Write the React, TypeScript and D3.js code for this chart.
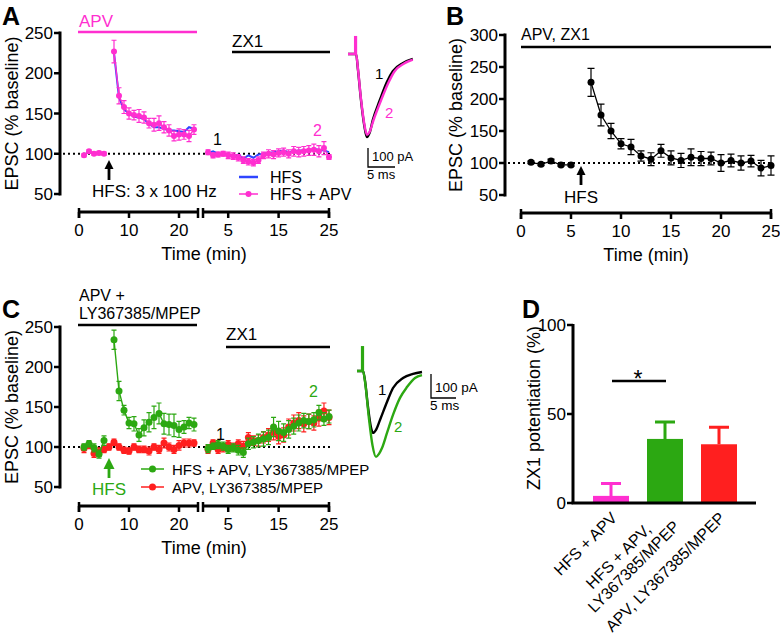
import React from 'react';
import * as d3 from 'd3';

const FONT = 'Arial, "Liberation Sans", Helvetica, sans-serif';
const PINK = '#ff2fd0';
const BLUE = '#2f45ff';
const GREEN = '#2ca812';
const RED = '#ff1f1f';

// time points (min)
const preTime = [1, 2, 3, 4, 5];
const postTimeA = [7, 8, 9, 10, 11, 12, 13, 14, 15, 16, 17, 18, 19, 20, 21, 22, 23];
const postTimeB = [7, 8, 9, 10, 11, 12, 13, 14, 15, 16, 17, 18, 19, 20, 21, 22, 23, 24, 25];
const leftTimeC = [1, 2, 3, 4, 5, 6, 7, 8, 9, 10, 11, 12, 13, 14, 15, 16, 17, 18, 19, 20, 21, 22, 23];
const zxTime = [1, 2, 3, 4, 5, 6, 7, 8, 9, 10, 11, 12, 13, 14, 15, 16, 17, 18, 19, 20, 21, 22, 23, 24, 25];

// panel A
const aPinkPre = [98, 103, 100, 101, 100];
const aPinkPreErr = [2, 2, 2, 2, 2];
const aBluePre = [99, 102, 100, 100, 100];
const aPinkPost = [227, 172, 158, 150, 148, 147, 145, 138, 136, 138, 133, 129, 122, 124, 124, 122, 130];
const aPinkPostErr = [14, 10, 8, 7, 6, 8, 7, 6, 8, 9, 7, 7, 6, 7, 6, 7, 6];
const aBluePost = [225, 170, 155, 150, 146, 145, 143, 137, 133, 133, 131, 129, 129, 128, 127, 133, 131];
const aPinkZx = [102, 98, 99, 100, 98, 97, 95, 92, 90, 89, 92, 98, 100, 99, 101, 102, 100, 103, 102, 103, 104, 105, 103, 107, 96];
const aPinkZxErr = [3, 3, 3, 3, 4, 4, 4, 4, 4, 4, 4, 4, 5, 5, 5, 5, 5, 6, 6, 6, 6, 7, 7, 8, 3];
const aBlueZx = [101, 103, 100, 100, 99, 97, 99, 94, 98, 95, 99, 100, 101, 102, 103, 104, 102, 103, 104, 104, 104, 106, 105, 104, 102];

// panel B
const bPre = [101, 98, 103, 97, 97];
const bPreErr = [2, 2, 3, 2, 2];
const bPost = [226, 175, 150, 130, 125, 111, 106, 119, 108, 104, 109, 107, 107, 100, 104, 100, 103, 92, 96];
const bPostErr = [22, 17, 12, 8, 12, 8, 10, 10, 11, 11, 13, 11, 10, 13, 10, 11, 9, 12, 15];

// panel C
const cGreenPre = [100, 104, 99, 91, 108];
const cGreenPreErr = [4, 4, 5, 5, 6];
const cGreenPost = [234, 170, 146, 130, 129, 115, 124, 131, 137, 142, 129, 128, 127, 122, 125, 130, 128];
const cGreenPostErr = [12, 12, 6, 7, 9, 8, 10, 12, 14, 13, 13, 13, 14, 10, 8, 7, 8];
const cRedLeft = [98, 102, 92, 94, 97, 100, 106, 100, 96, 95, 100, 97, 97, 95, 100, 97, 105, 100, 97, 102, 105, 105, 105];
const cRedLeftErr = [5, 4, 5, 5, 4, 4, 4, 4, 4, 4, 4, 4, 4, 5, 4, 5, 6, 5, 5, 6, 5, 5, 4];
const cGreenZx = [98, 101, 103, 101, 97, 99, 96, 93, 104, 106, 108, 110, 112, 125, 120, 118, 122, 126, 130, 133, 132, 134, 143, 135, 138];
const cGreenZxErr = [5, 4, 5, 5, 5, 5, 6, 6, 7, 7, 8, 9, 9, 12, 12, 11, 11, 10, 10, 9, 9, 9, 9, 8, 8];
const cRedZx = [97, 105, 97, 99, 103, 100, 104, 101, 112, 108, 108, 112, 115, 118, 113, 115, 125, 130, 133, 129, 132, 130, 136, 145, 137];
const cRedZxErr = [5, 4, 5, 5, 5, 5, 5, 6, 6, 6, 7, 7, 8, 9, 9, 9, 10, 10, 10, 10, 9, 9, 10, 10, 9];

// panel D
const dLabels = ['HFS + APV', 'HFS + APV,|LY367385/MPEP', 'APV, LY367385/MPEP'];
const dValues = [4, 36, 33];
const dErr = [7, 9.5, 9.5];
const dColors = [PINK, GREEN, RED];

// EPSC traces: [ms, pA]
const traceA1: [number, number][] = [[0, 0], [1.3, 0], [1.5, 0], [1.85, -84], [2.4, -242], [3.0, -374], [3.5, -437], [4.0, -415], [4.6, -347], [5.9, -242], [7.2, -147], [8.3, -90], [10.2, -47], [12, -26]];
const traceA2: [number, number][] = [[0, 0], [1.3, 0], [1.5, 0], [1.85, -80], [2.4, -235], [3.0, -365], [3.5, -425], [4.0, -410], [4.7, -350], [6.1, -245], [7.5, -150], [8.6, -92], [10.4, -50], [12, -30]];
const traceC1: [number, number][] = [[0, 0], [1.0, 0], [1.2, 0], [1.6, -40], [2.2, -150], [2.8, -235], [3.2, -258], [3.8, -245], [4.6, -204], [6.0, -129], [7.2, -71], [9.2, -29], [11.2, -12], [13, -4]];
const traceC2: [number, number][] = [[0, 0], [1.0, 0], [1.2, 0], [1.7, -60], [2.4, -200], [3.1, -310], [3.8, -358], [4.4, -345], [5.0, -321], [6.0, -258], [7.2, -183], [8.6, -112], [10, -67], [11.6, -29], [13, -17]];
const stimA = 95;
const stimC = 104;

const yTicksA = [50, 100, 150, 200, 250];
const yTicksB = [50, 100, 150, 200, 250, 300];
const xTicksLeft = [0, 10, 20];
const xTicksRight = [5, 15, 25];
const xTicksB = [0, 5, 10, 15, 20, 25];
const yTicksD = [0, 50, 100];

type Scale = d3.ScaleLinear<number, number>;

function Series({ t, v, e, x, y, color, r = 3, cap = 5, lw = 1.4, dots = true }:
  { t: number[]; v: number[]; e?: number[]; x: Scale; y: Scale; color: string; r?: number; cap?: number; lw?: number; dots?: boolean }) {
  const line = d3.line<number>().x((_, i) => x(t[i])).y((d) => y(d));
  return (
    <g>
      <path d={line(v) ?? ''} fill="none" stroke={color} strokeWidth={lw} />
      {e && v.map((d, i) => {
        const cx = x(t[i]);
        const y0 = y(d - e[i]);
        const y1 = y(d + e[i]);
        return <path key={'e' + i} d={`M${cx},${y0}V${y1}M${cx - cap / 2},${y0}h${cap}M${cx - cap / 2},${y1}h${cap}`} stroke={color} strokeWidth={1.2} fill="none" />;
      })}
      {dots && v.map((d, i) => <circle key={i} cx={x(t[i])} cy={y(d)} r={r} fill={color} />)}
    </g>
  );
}

function YAxis({ x, scale, ticks, title, titleX }: { x: number; scale: Scale; ticks: number[]; title: string; titleX: number }) {
  const y0 = scale(ticks[0]);
  const y1 = scale(ticks[ticks.length - 1]);
  return (
    <g>
      <line x1={x} x2={x} y1={y0 + 1.5} y2={y1 - 1.5} stroke="#000" strokeWidth={3} />
      {ticks.map((t) => (
        <g key={t}>
          <line x1={x - 6} x2={x} y1={scale(t)} y2={scale(t)} stroke="#000" strokeWidth={2.5} />
          <text x={x - 7} y={scale(t)} dy="0.36em" textAnchor="end" fontSize={17}>{t}</text>
        </g>
      ))}
      <text transform={`translate(${titleX},${(y0 + y1) / 2}) rotate(-90)`} textAnchor="middle" fontSize={18}>{title}</text>
    </g>
  );
}

function TimeAxis({ y, segs }: { y: number; segs: { s: Scale; ticks: number[] }[] }) {
  const lo = segs[0].s.range()[0];
  const hi = segs[segs.length - 1].s.range()[1];
  return (
    <g>
      {segs.map((sg, k) => {
        const [a, b] = sg.s.range();
        return (
          <g key={k}>
            <line x1={a} x2={b} y1={y} y2={y} stroke="#000" strokeWidth={3} />
            <line x1={a} x2={a} y1={y - 4} y2={y + 6} stroke="#000" strokeWidth={2.5} />
            <line x1={b} x2={b} y1={y - 4} y2={y + 6} stroke="#000" strokeWidth={2.5} />
            {sg.ticks.map((t) => (
              <g key={t}>
                <line x1={sg.s(t)} x2={sg.s(t)} y1={y} y2={y + 6} stroke="#000" strokeWidth={2.5} />
                <text x={sg.s(t)} y={y + 24} textAnchor="middle" fontSize={17}>{t}</text>
              </g>
            ))}
          </g>
        );
      })}
      <text x={(lo + hi) / 2} y={y + 48} textAnchor="middle" fontSize={18}>Time (min)</text>
    </g>
  );
}

function Arrow({ x, tip, tail, color, head = 9 }: { x: number; tip: number; tail: number; color: string; head?: number }) {
  return (
    <g>
      <line x1={x} x2={x} y1={tip + head - 1} y2={tail} stroke={color} strokeWidth={2.8} />
      <path d={`M${x},${tip}L${x - head / 2},${tip + head}L${x + head / 2},${tip + head}Z`} fill={color} />
    </g>
  );
}

function Trace({ data, x, y, color, stim, lw = 2.4 }: { data: [number, number][]; x: Scale; y: Scale; color: string; stim?: number; lw?: number }) {
  const line = d3.line<[number, number]>().x((d) => x(d[0])).y((d) => y(d[1])).curve(d3.curveMonotoneX);
  const st = data[1][0];
  return (
    <g>
      <path d={line(data) ?? ''} fill="none" stroke={color} strokeWidth={lw} strokeLinejoin="round" />
      {stim !== undefined && <line x1={x(st + 0.1)} x2={x(st + 0.1)} y1={y(0) + 1} y2={y(stim)} stroke={color} strokeWidth={3.2} />}
    </g>
  );
}

function ScaleBar({ x0, y0, xs, ys, ms, pA, fs }: { x0: number; y0: number; xs: Scale; ys: Scale; ms: number; pA: number; fs: number }) {
  const w = xs(ms) - xs(0);
  const h = ys(0) - ys(-pA);
  return (
    <g>
      <path d={`M${x0},${y0 + h}V${y0}h${w}`} fill="none" stroke="#000" strokeWidth={1.3} />
      <text x={x0 + 4} y={y0 - 6} fontSize={fs}>{pA} pA</text>
      <text x={x0 - 1} y={y0 + 12} fontSize={fs}>{ms} ms</text>
    </g>
  );
}

export default function App() {
  // ---- A ----
  const yA = d3.scaleLinear().domain([50, 250]).range([194, 33]);
  const xAL = d3.scaleLinear().domain([0, 23.8]).range([79, 198]);
  const xAR = d3.scaleLinear().domain([0, 25]).range([203, 329]);
  const tAx = d3.scaleLinear().domain([0, 1]).range([348, 353.4]);
  const tAy = d3.scaleLinear().domain([0, -100]).range([54, 73]);

  // ---- B ----
  const yB = d3.scaleLinear().domain([50, 300]).range([195, 35]);
  const xB = d3.scaleLinear().domain([0, 25]).range([521, 771]);

  // ---- C ----
  const yC = d3.scaleLinear().domain([50, 250]).range([487, 327]);
  const xCL = d3.scaleLinear().domain([0, 23.8]).range([79, 198]);
  const xCR = d3.scaleLinear().domain([0, 25]).range([203, 329]);
  const tCx = d3.scaleLinear().domain([0, 1]).range([357, 362]);
  const tCy = d3.scaleLinear().domain([0, -100]).range([371, 395]);

  // ---- D ----
  const yD = d3.scaleLinear().domain([0, 100]).range([503, 325]);
  const xD = d3.scaleBand<string>().domain(dLabels).range([584, 746]).paddingInner(1 / 3).paddingOuter(1 / 6);

  return (
    <svg width={780} height={634} style={{ position: 'absolute', left: 0, top: 0, background: '#fff' }} fontFamily={FONT}>
      <rect width={780} height={634} fill="#fff" />

      {/* ===== Panel A ===== */}
      <text x={2} y={25} fontSize={25} fontWeight="bold">A</text>
      <YAxis x={60} scale={yA} ticks={yTicksA} title="EPSC (% baseline)" titleX={18} />
      <TimeAxis y={212} segs={[{ s: xAL, ticks: xTicksLeft }, { s: xAR, ticks: xTicksRight }]} />
      <line x1={63} x2={330} y1={yA(100)} y2={yA(100)} stroke="#000" strokeWidth={1.8} strokeDasharray="2,3" />
      <text x={79} y={27} fontSize={17} fill={PINK}>APV</text>
      <line x1={78} x2={197} y1={32} y2={32} stroke={PINK} strokeWidth={2.5} />
      <text x={232} y={47} fontSize={17}>ZX1</text>
      <line x1={232} x2={330} y1={52} y2={52} stroke="#000" strokeWidth={2.5} />
      <Series t={preTime} v={aBluePre} x={xAL} y={yA} color={BLUE} dots={false} lw={2} />
      <Series t={postTimeA} v={aBluePost} x={xAL} y={yA} color={BLUE} dots={false} lw={2} />
      <Series t={zxTime} v={aBlueZx} x={xAR} y={yA} color={BLUE} dots={false} lw={2} />
      <Series t={preTime} v={aPinkPre} e={aPinkPreErr} x={xAL} y={yA} color={PINK} />
      <Series t={postTimeA} v={aPinkPost} e={aPinkPostErr} x={xAL} y={yA} color={PINK} />
      <Series t={zxTime} v={aPinkZx} e={aPinkZxErr} x={xAR} y={yA} color={PINK} />
      <text x={213} y={145} fontSize={16}>1</text>
      <text x={313} y={136} fontSize={16} fill={PINK}>2</text>
      <Arrow x={xAL(6)} tip={160} tail={180} color="#000" />
      <text x={92} y={197} fontSize={17}>HFS: 3 x 100 Hz</text>
      <line x1={239} x2={258} y1={177} y2={177} stroke={BLUE} strokeWidth={2.5} />
      <text x={270} y={183} fontSize={16}>HFS</text>
      <line x1={239} x2={258} y1={194} y2={194} stroke={PINK} strokeWidth={1.5} />
      <circle cx={248.5} cy={194} r={3} fill={PINK} />
      <text x={270} y={200} fontSize={16}>HFS + APV</text>

      <Trace data={traceA1} x={tAx} y={tAy} color="#000" />
      <Trace data={traceA2} x={tAx} y={tAy} color={PINK} stim={stimA} />
      <text x={375} y={79} fontSize={15}>1</text>
      <text x={385} y={118} fontSize={15} fill={PINK}>2</text>
      <ScaleBar x0={368} y0={167} xs={tAx} ys={tAy} ms={5} pA={100} fs={13} />

      {/* ===== Panel B ===== */}
      <text x={446} y={25} fontSize={25} fontWeight="bold">B</text>
      <YAxis x={505} scale={yB} ticks={yTicksB} title="EPSC (% baseline)" titleX={462} />
      <TimeAxis y={213} segs={[{ s: xB, ticks: xTicksB }]} />
      <line x1={508} x2={771} y1={yB(100)} y2={yB(100)} stroke="#000" strokeWidth={1.8} strokeDasharray="2,3" />
      <text x={521} y={40} fontSize={16}>APV, ZX1</text>
      <line x1={521} x2={771} y1={47} y2={47} stroke="#000" strokeWidth={2.5} />
      <Series t={preTime} v={bPre} e={bPreErr} x={xB} y={yB} color="#000" r={3.5} cap={7} lw={1.3} />
      <Series t={postTimeB} v={bPost} e={bPostErr} x={xB} y={yB} color="#000" r={3.5} cap={7} lw={1.3} />
      <Arrow x={xB(6)} tip={166} tail={185} color="#000" />
      <text x={xB(6)} y={203} fontSize={17} textAnchor="middle">HFS</text>

      {/* ===== Panel C ===== */}
      <text x={2} y={318} fontSize={25} fontWeight="bold">C</text>
      <YAxis x={60} scale={yC} ticks={yTicksA} title="EPSC (% baseline)" titleX={18} />
      <TimeAxis y={506} segs={[{ s: xCL, ticks: xTicksLeft }, { s: xCR, ticks: xTicksRight }]} />
      <line x1={63} x2={330} y1={yC(100)} y2={yC(100)} stroke="#000" strokeWidth={1.8} strokeDasharray="2,3" />
      <text x={79} y={301} fontSize={16}>APV +</text>
      <text x={79} y={319} fontSize={16}>LY367385/MPEP</text>
      <line x1={78} x2={197} y1={325} y2={325} stroke="#000" strokeWidth={2.5} />
      <text x={226} y={340} fontSize={17}>ZX1</text>
      <line x1={226} x2={330} y1={347} y2={347} stroke="#000" strokeWidth={2.5} />
      <Series t={leftTimeC} v={cRedLeft} e={cRedLeftErr} x={xCL} y={yC} color={RED} r={3.5} />
      <Series t={preTime} v={cGreenPre} e={cGreenPreErr} x={xCL} y={yC} color={GREEN} r={3.5} />
      <Series t={postTimeA} v={cGreenPost} e={cGreenPostErr} x={xCL} y={yC} color={GREEN} r={3.5} />
      <Series t={zxTime} v={cRedZx} e={cRedZxErr} x={xCR} y={yC} color={RED} r={3.5} />
      <Series t={zxTime} v={cGreenZx} e={cGreenZxErr} x={xCR} y={yC} color={GREEN} r={3.5} />
      <text x={216} y={440} fontSize={16}>1</text>
      <text x={309} y={397} fontSize={16} fill={GREEN}>2</text>
      <Arrow x={xCL(6)} tip={458} tail={478} color={GREEN} head={11} />
      <text x={xCL(6)} y={495} fontSize={17} fill={GREEN} textAnchor="middle">HFS</text>
      <line x1={141} x2={164} y1={469} y2={469} stroke={GREEN} strokeWidth={1.5} />
      <circle cx={152.5} cy={469} r={3.5} fill={GREEN} />
      <text x={172} y={475} fontSize={15}>HFS + APV, LY367385/MPEP</text>
      <line x1={141} x2={164} y1={487} y2={487} stroke={RED} strokeWidth={1.5} />
      <circle cx={152.5} cy={487} r={3.5} fill={RED} />
      <text x={172} y={493} fontSize={15}>APV, LY367385/MPEP</text>

      <Trace data={traceC1} x={tCx} y={tCy} color="#000" />
      <Trace data={traceC2} x={tCx} y={tCy} color={GREEN} stim={stimC} />
      <text x={378} y={395} fontSize={15}>1</text>
      <text x={394} y={432} fontSize={15} fill={GREEN}>2</text>
      <ScaleBar x0={431} y0={422 - (tCy(-100) - tCy(0))} xs={tCx} ys={tCy} ms={5} pA={100} fs={13.5} />

      {/* ===== Panel D ===== */}
      <text x={522} y={318} fontSize={25} fontWeight="bold">D</text>
      {dLabels.map((l, i) => {
        const bx = xD(l) ?? 0;
        const bw = xD.bandwidth();
        const cx = bx + bw / 2;
        return (
          <g key={l}>
            <rect x={bx} y={yD(dValues[i])} width={bw} height={yD(0) - yD(dValues[i])} fill={dColors[i]} />
            <path d={`M${cx},${yD(dValues[i])}V${yD(dValues[i] + dErr[i])}M${cx - 10},${yD(dValues[i] + dErr[i])}h20`} stroke={dColors[i]} strokeWidth={3} fill="none" />
          </g>
        );
      })}
      <line x1={573} x2={573} y1={yD(0)} y2={yD(100) - 1} stroke="#000" strokeWidth={3} />
      <line x1={571.5} x2={756} y1={yD(0)} y2={yD(0)} stroke="#000" strokeWidth={3} />
      {yTicksD.map((t) => (
        <g key={t}>
          <line x1={567} x2={573} y1={yD(t)} y2={yD(t)} stroke="#000" strokeWidth={2.5} />
          <text x={566} y={yD(t)} dy="0.36em" textAnchor="end" fontSize={17}>{t}</text>
        </g>
      ))}
      <text transform={`translate(540,${(yD(0) + yD(100)) / 2 - 6}) rotate(-90)`} textAnchor="middle" fontSize={18}>ZX1 potentiation (%)</text>
      <line x1={612} x2={666} y1={381} y2={381} stroke="#000" strokeWidth={2.5} />
      <text x={638} y={387} fontSize={23} textAnchor="middle">*</text>
      {dLabels.map((l, i) => {
        const cx = (xD(l) ?? 0) + xD.bandwidth() / 2;
        const lines = l.split('|');
        return (
          <g key={'lab' + i} transform={`translate(${cx + 7},${519}) rotate(-45)`}>
            {lines.map((s, k) => (
              <text key={k} x={lines.length > 1 && k === 0 ? -22 : 0} y={(k - (lines.length - 1)) * 18 + (lines.length > 1 ? 12 : 0)} textAnchor="end" fontSize={16}>{s}</text>
            ))}
          </g>
        );
      })}
    </svg>
  );
}
